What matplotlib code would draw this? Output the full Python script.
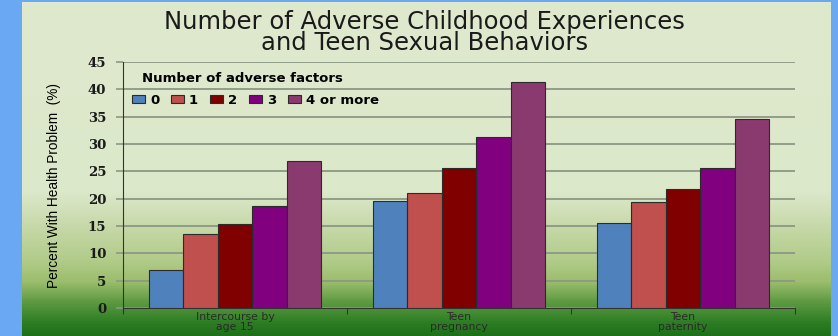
import numpy as np
import matplotlib
matplotlib.use("Agg")
import matplotlib.pyplot as plt
from matplotlib.colors import LinearSegmentedColormap

# chart data
categories = ["Intercourse by\nage 15", "Teen\npregnancy", "Teen\npaternity"]
factor_labels = ["0", "1", "2", "3", "4 or more"]
values_0 = [7.0, 19.5, 15.5]
values_1 = [13.5, 21.1, 19.3]
values_2 = [15.4, 25.6, 21.8]
values_3 = [18.7, 31.2, 25.6]
values_4plus = [26.9, 41.3, 34.5]
y_ticks = [0, 5, 10, 15, 20, 25, 30, 35, 40, 45]

series = [values_0, values_1, values_2, values_3, values_4plus]
colors = ["#4f81bd", "#c0504d", "#800000", "#800080", "#8a3a6e"]

W, H = 838, 336
fig = plt.figure(figsize=(W / 100, H / 100), dpi=100)
fig.patch.set_facecolor("#6aa8f4")

# slide panel with vertical green gradient
bg = fig.add_axes([22 / W, 0, (830 - 22) / W, (H - 2) / H])
bg.set_axis_off()
grad = LinearSegmentedColormap.from_list("slide", [
    (0.00, "#dfe9ce"),
    (0.57, "#dce8ca"),
    (0.69, "#c3d6a3"),
    (0.78, "#b0cb88"),
    (0.84, "#9bbd6c"),
    (0.90, "#5e9a42"),
    (0.96, "#2f7e25"),
    (1.00, "#1e701a"),
])
bg.imshow(np.linspace(0, 1, 400).reshape(-1, 1), aspect="auto", cmap=grad,
          extent=[0, 1, 0, 1])
bg.set_xlim(0, 1)
bg.set_ylim(0, 1)

fig.text(0.507, 0.902, "Number of Adverse Childhood Experiences\nand Teen Sexual Behaviors",
         ha="center", va="center", multialignment="center", linespacing=0.84,
         fontsize=17.5, family="DejaVu Sans", color="#1a1a1a")

ax = fig.add_axes([123 / W, 28 / H, (795 - 123) / W, (308 - 62) / H])
ax.set_facecolor("none")

x = np.arange(len(categories))
bw = 0.154
for i, (vals, c, lab) in enumerate(zip(series, colors, factor_labels)):
    ax.bar(x + (i - 2) * bw, vals, width=bw, color=c, edgecolor="#2b2b2b",
           linewidth=0.8, label=lab, zorder=3)

ax.set_xlim(-0.5, 2.5)
ax.set_ylim(0, 45)
ax.set_yticks(y_ticks)
ax.set_yticklabels([str(t) for t in y_ticks], fontsize=9.5, fontweight="bold",
                   family="DejaVu Serif")
ax.yaxis.grid(True, color="#8c9883", linewidth=1.3, zorder=0)
ax.tick_params(axis="y", length=5, width=1.2, pad=7, colors="#1a1a1a")
ax.tick_params(axis="y", color="#8c9883")

ax.set_xticks([-0.5, 0.5, 1.5, 2.5])
ax.set_xticklabels([])
ax.set_xticks(x, minor=True)
ax.set_xticklabels(categories, minor=True, fontsize=7.8, color="#2a2a2a",
                   linespacing=1.0)
ax.tick_params(axis="x", which="major", length=4, color="#333333")
ax.tick_params(axis="x", which="minor", length=0, pad=3)

for s in ["top", "right"]:
    ax.spines[s].set_visible(False)
ax.spines["left"].set_color("#333333")
ax.spines["bottom"].set_color("#333333")

ax.set_ylabel("Percent With Health Problem  (%)", fontsize=9.8,
              family="Liberation Sans")
ax.yaxis.set_label_coords(-0.092, 0.5)

leg = ax.legend(ncol=5, loc="upper left", bbox_to_anchor=(0.002, 0.993),
                frameon=False, title="Number of adverse factors",
                alignment="left", handlelength=1.0, handleheight=0.6,
                handletextpad=0.35, columnspacing=0.9, borderaxespad=0.2,
                labelspacing=0.7, prop={"weight": "bold", "size": 9.5})
leg.get_title().set_fontweight("bold")
leg.get_title().set_fontsize(9.5)
leg.get_title().set_position((10, 0))

fig.savefig("out.png", dpi=100, facecolor=fig.get_facecolor())
